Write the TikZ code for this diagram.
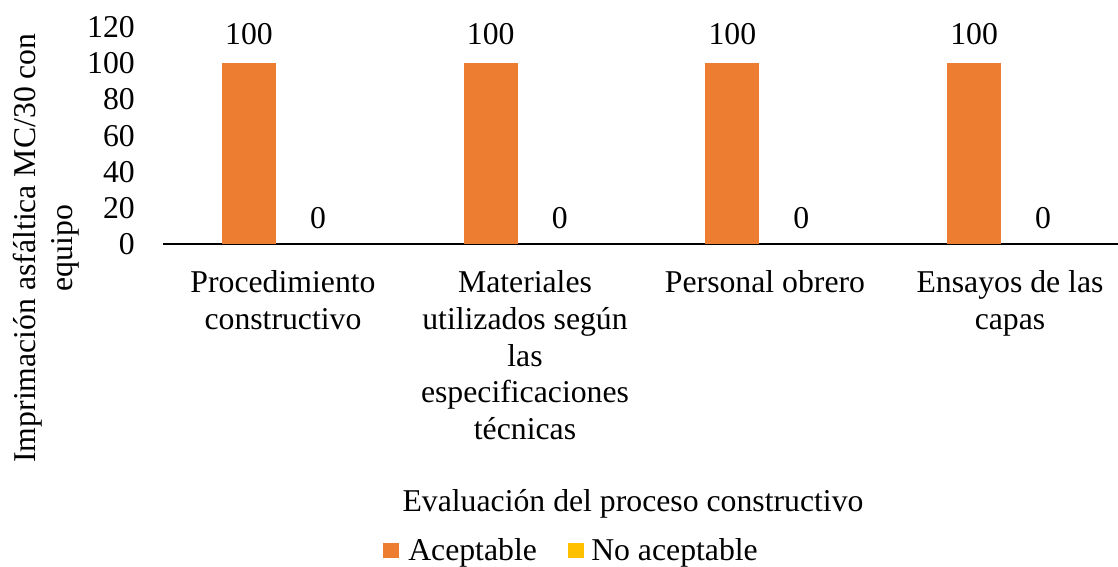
\documentclass[tikz,border=0pt]{standalone}
\usepackage{fontspec}
\setmainfont{Liberation Serif}
\definecolor{barorange}{HTML}{ED7D31}
\definecolor{baryellow}{HTML}{FFC000}
\begin{document}
\begin{tikzpicture}[x=0.75pt,y=-0.75pt,
  lbl/.style={font=\fontsize{23.8}{27.5}\selectfont, inner sep=0pt},
  catlbl/.style={lbl, align=center, anchor=north},
  axisline/.style={line width=1.1pt, black},
  barA/.style={fill=barorange},
  swatch/.style={inner sep=0pt, minimum width=12pt, minimum height=11.25pt}]
\useasboundingbox (0,0) rectangle (1118,567);
% axis
\coordinate (axL) at (163,244);
\coordinate (axR) at (1118,244);
\draw[axisline] (axL) -- (axR);
% y tick labels
\foreach \v/\n in {0/t0,20/t20,40/t40,60/t60,80/t80,100/t100,120/t120}
  \node[lbl, anchor=base east] (\n) at (135,{244-1.81*\v+10.7}) {\v};
% bars and value labels
\foreach \i in {0,1,2,3}{
  \fill[barA] ({222+241.7*\i},63) rectangle ++(54,181);
  \node[lbl, anchor=base] (va\i) at ({249+241.7*\i},45) {100};
  \node[lbl, anchor=base] (vb\i) at ({318+241.7*\i},228) {0};
}
% category labels
\node[catlbl] (c0) at (283,270.5) {Procedimiento\\constructivo};
\node[catlbl] (c1) at (525,270.5) {Materiales\\utilizados según\\las\\especificaciones\\técnicas};
\node[catlbl] (c2) at (765,270.5) {Personal obrero};
\node[catlbl] (c3) at (1010,270.5) {Ensayos de las\\capas};
% axis titles
\node[lbl, anchor=base] (xt) at (633,511.5) {Evaluación del proceso constructivo};
\node[lbl, align=center, rotate=90] (yt) at (46,248) {Imprimación asfáltica MC/30 con\\equipo};
% legend
\node[swatch, fill=barorange, anchor=north west] (s1) at (383,543) {};
\node[lbl, anchor=base west] (l1) at (408,560) {Aceptable};
\node[swatch, fill=baryellow, anchor=north west] (s2) at (568,543) {};
\node[lbl, anchor=base west] (l2) at (591,560) {No aceptable};
\end{tikzpicture}
\end{document}
